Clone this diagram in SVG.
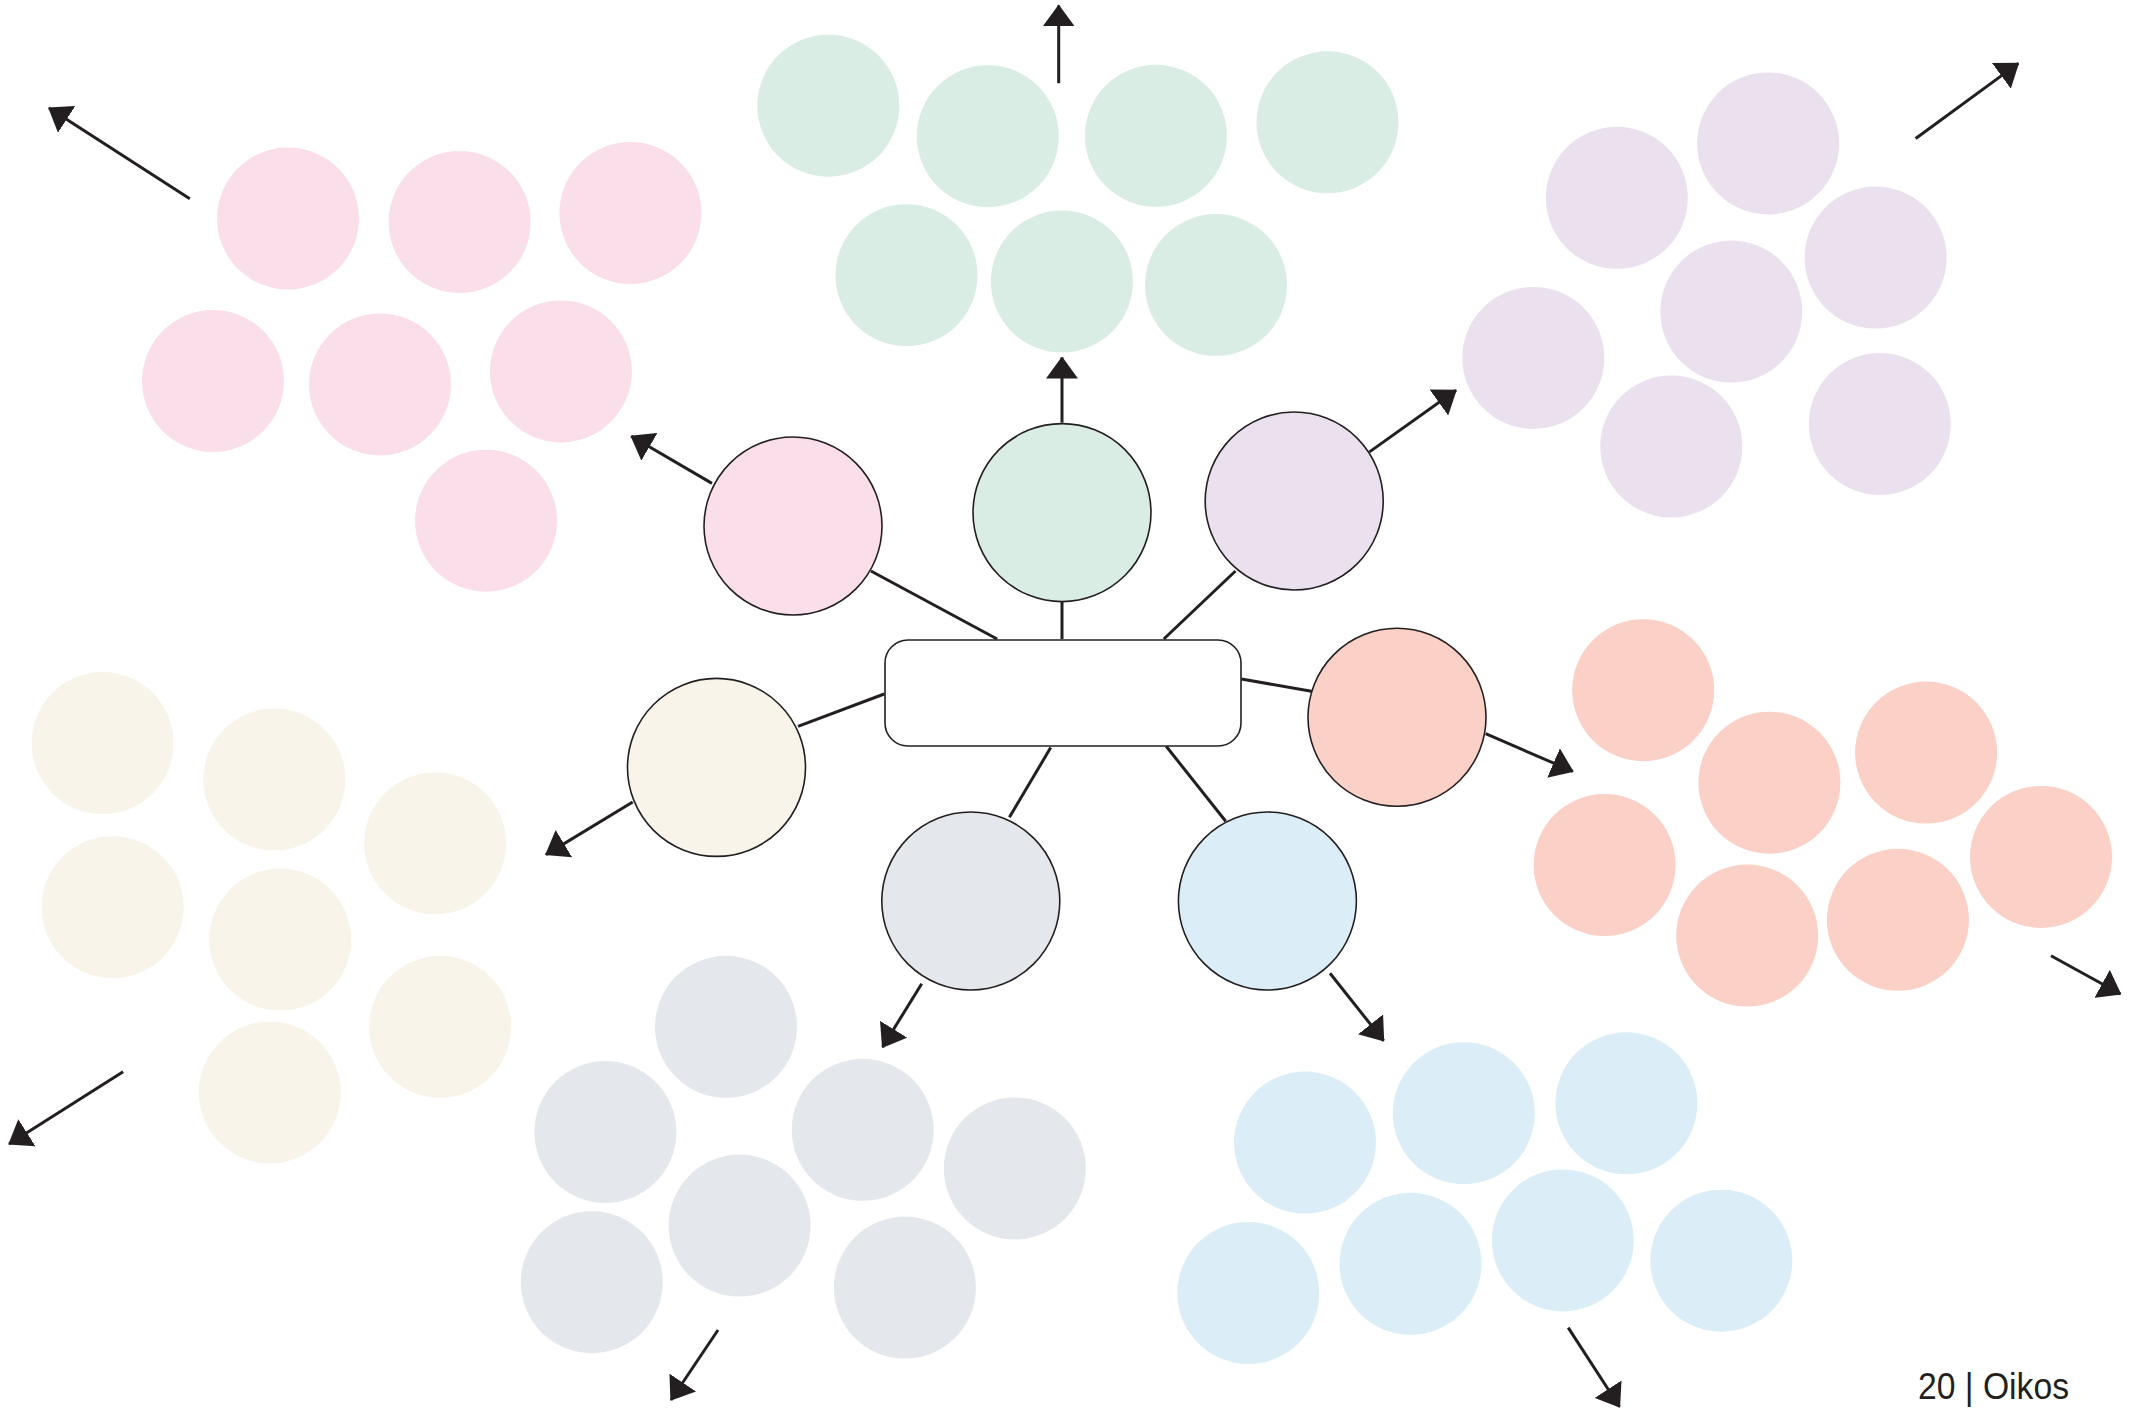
<svg xmlns="http://www.w3.org/2000/svg" width="2134" height="1409" viewBox="0 0 2134 1409">
<style>
.sm{stroke:none}
.big{stroke:#231f20;stroke-width:1.6}
.pink{fill:#fadfea}.green{fill:#d9ede4}.purple{fill:#ebe0ee}.salmon{fill:#fad0c7}.cream{fill:#f8f4ea}.gray{fill:#e4e8ed}.blue{fill:#dbeef7}
.ln{stroke:#231f20;stroke-width:3;fill:none}
.ar{stroke:#231f20;stroke-width:3;fill:none;marker-end:url(#ah)}
.lbl{font-family:"Liberation Sans",Arial,sans-serif;font-size:36px;fill:#231f20}
</style>
<defs>
<marker id="ah" viewBox="0 0 22 32" refX="21" refY="16" markerWidth="22" markerHeight="32" markerUnits="userSpaceOnUse" orient="auto">
<path d="M0,0 L22,16 L0,32 z" fill="#231f20"/>
</marker>
</defs>
<rect width="2134" height="1409" fill="#ffffff"/>
<g id="connectors">
<line class="ln" x1="870.9" y1="571" x2="997.1" y2="639"/>
<line class="ln" x1="1062" y1="602" x2="1062" y2="639"/>
<line class="ln" x1="1235.5" y1="571" x2="1163.8" y2="639"/>
<line class="ln" x1="1241.4" y1="679" x2="1312.8" y2="691.5"/>
<line class="ln" x1="884.2" y1="694" x2="798" y2="726.4"/>
<line class="ln" x1="1050.7" y1="747.6" x2="1009.4" y2="817.3"/>
<line class="ln" x1="1166.2" y1="746.3" x2="1225.7" y2="821.2"/>
<line class="ar" x1="712" y1="483.4" x2="631.3" y2="436.2"/>
<line class="ar" x1="1062" y1="422.7" x2="1062" y2="357.5"/>
<line class="ar" x1="1369.5" y1="451.9" x2="1456" y2="390.3"/>
<line class="ar" x1="1485.6" y1="733.7" x2="1572.8" y2="771.4"/>
<line class="ar" x1="632.7" y1="802" x2="546" y2="854.6"/>
<line class="ar" x1="921.7" y1="983.7" x2="882.6" y2="1047.1"/>
<line class="ar" x1="1330" y1="973.3" x2="1383.6" y2="1040.8"/>
<line class="ar" x1="189.8" y1="198.7" x2="49" y2="108"/>
<line class="ar" x1="1058.7" y1="83.2" x2="1058.7" y2="5.4"/>
<line class="ar" x1="1915.7" y1="138.5" x2="2018.3" y2="63.4"/>
<line class="ar" x1="2051" y1="955.8" x2="2120.5" y2="994"/>
<line class="ar" x1="123.1" y1="1071.8" x2="9.1" y2="1143.9"/>
<line class="ar" x1="718" y1="1330" x2="671" y2="1400"/>
<line class="ar" x1="1568.2" y1="1327.6" x2="1619.5" y2="1406.8"/>
</g>
<g id="center">
<rect x="885" y="640" width="356" height="106" rx="23" ry="23" fill="#ffffff" stroke="#231f20" stroke-width="1.6"/>
</g>
<g id="node-pink"><circle class="big pink" cx="793" cy="526" r="89"/></g>
<g id="node-green"><circle class="big green" cx="1062" cy="512.6" r="89"/></g>
<g id="node-purple"><circle class="big purple" cx="1294.2" cy="501" r="89"/></g>
<g id="node-salmon"><circle class="big salmon" cx="1397" cy="717.3" r="89"/></g>
<g id="node-cream"><circle class="big cream" cx="716.5" cy="767.4" r="89"/></g>
<g id="node-gray"><circle class="big gray" cx="970.8" cy="901" r="89"/></g>
<g id="node-blue"><circle class="big blue" cx="1267.4" cy="901" r="89"/></g>
<g id="cluster-pink" class="pink">
<circle cx="288" cy="218.5" r="71"/><circle cx="459.6" cy="222" r="71"/><circle cx="630.4" cy="213" r="71"/>
<circle cx="213" cy="381" r="71"/><circle cx="380" cy="384.4" r="71"/><circle cx="560.9" cy="371.4" r="71"/>
<circle cx="486" cy="520.7" r="71"/>
</g>
<g id="cluster-green" class="green">
<circle cx="828.3" cy="105.7" r="71"/><circle cx="987.8" cy="136.2" r="71"/><circle cx="1155.9" cy="135.8" r="71"/><circle cx="1327.5" cy="122.3" r="71"/>
<circle cx="906.5" cy="275.2" r="71"/><circle cx="1061.9" cy="281.5" r="71"/><circle cx="1216" cy="285" r="71"/>
</g>
<g id="cluster-purple" class="purple">
<circle cx="1616.8" cy="197.8" r="71"/><circle cx="1768.1" cy="143.4" r="71"/><circle cx="1875.6" cy="257.6" r="71"/>
<circle cx="1731.3" cy="311.6" r="71"/><circle cx="1533.3" cy="357.9" r="71"/><circle cx="1671.3" cy="446.5" r="71"/>
<circle cx="1879.8" cy="424" r="71"/>
</g>
<g id="cluster-salmon" class="salmon">
<circle cx="1643.2" cy="690.2" r="71"/><circle cx="1926.1" cy="752.6" r="71"/><circle cx="1769.4" cy="782.7" r="71"/>
<circle cx="1604.6" cy="865" r="71"/><circle cx="2041" cy="856.9" r="71"/><circle cx="1747.2" cy="935.6" r="71"/>
<circle cx="1897.9" cy="919.8" r="71"/>
</g>
<g id="cluster-cream" class="cream">
<circle cx="102.6" cy="743.1" r="71"/><circle cx="274.3" cy="779.5" r="71"/><circle cx="435.1" cy="843.4" r="71"/>
<circle cx="112.6" cy="907.2" r="71"/><circle cx="280.2" cy="939.6" r="71"/><circle cx="440.1" cy="1026.8" r="71"/>
<circle cx="269.8" cy="1092.5" r="71"/>
</g>
<g id="cluster-gray" class="gray">
<circle cx="726" cy="1026.8" r="71"/><circle cx="605.4" cy="1132" r="71"/><circle cx="862.7" cy="1129.8" r="71"/>
<circle cx="1014.8" cy="1168.5" r="71"/><circle cx="739.6" cy="1225.6" r="71"/><circle cx="591.8" cy="1282.2" r="71"/>
<circle cx="904.9" cy="1287.6" r="71"/>
</g>
<g id="cluster-blue" class="blue">
<circle cx="1305" cy="1142.6" r="71"/><circle cx="1463.8" cy="1113.2" r="71"/><circle cx="1626.4" cy="1103.3" r="71"/>
<circle cx="1248.3" cy="1293" r="71"/><circle cx="1410.5" cy="1263.8" r="71"/><circle cx="1562.8" cy="1240.4" r="71"/>
<circle cx="1721.3" cy="1260.7" r="71"/>
</g>
<g id="footer">
<text class="lbl" x="1918" y="1399" textLength="151" lengthAdjust="spacingAndGlyphs">20 | Oikos</text>
</g>
</svg>
